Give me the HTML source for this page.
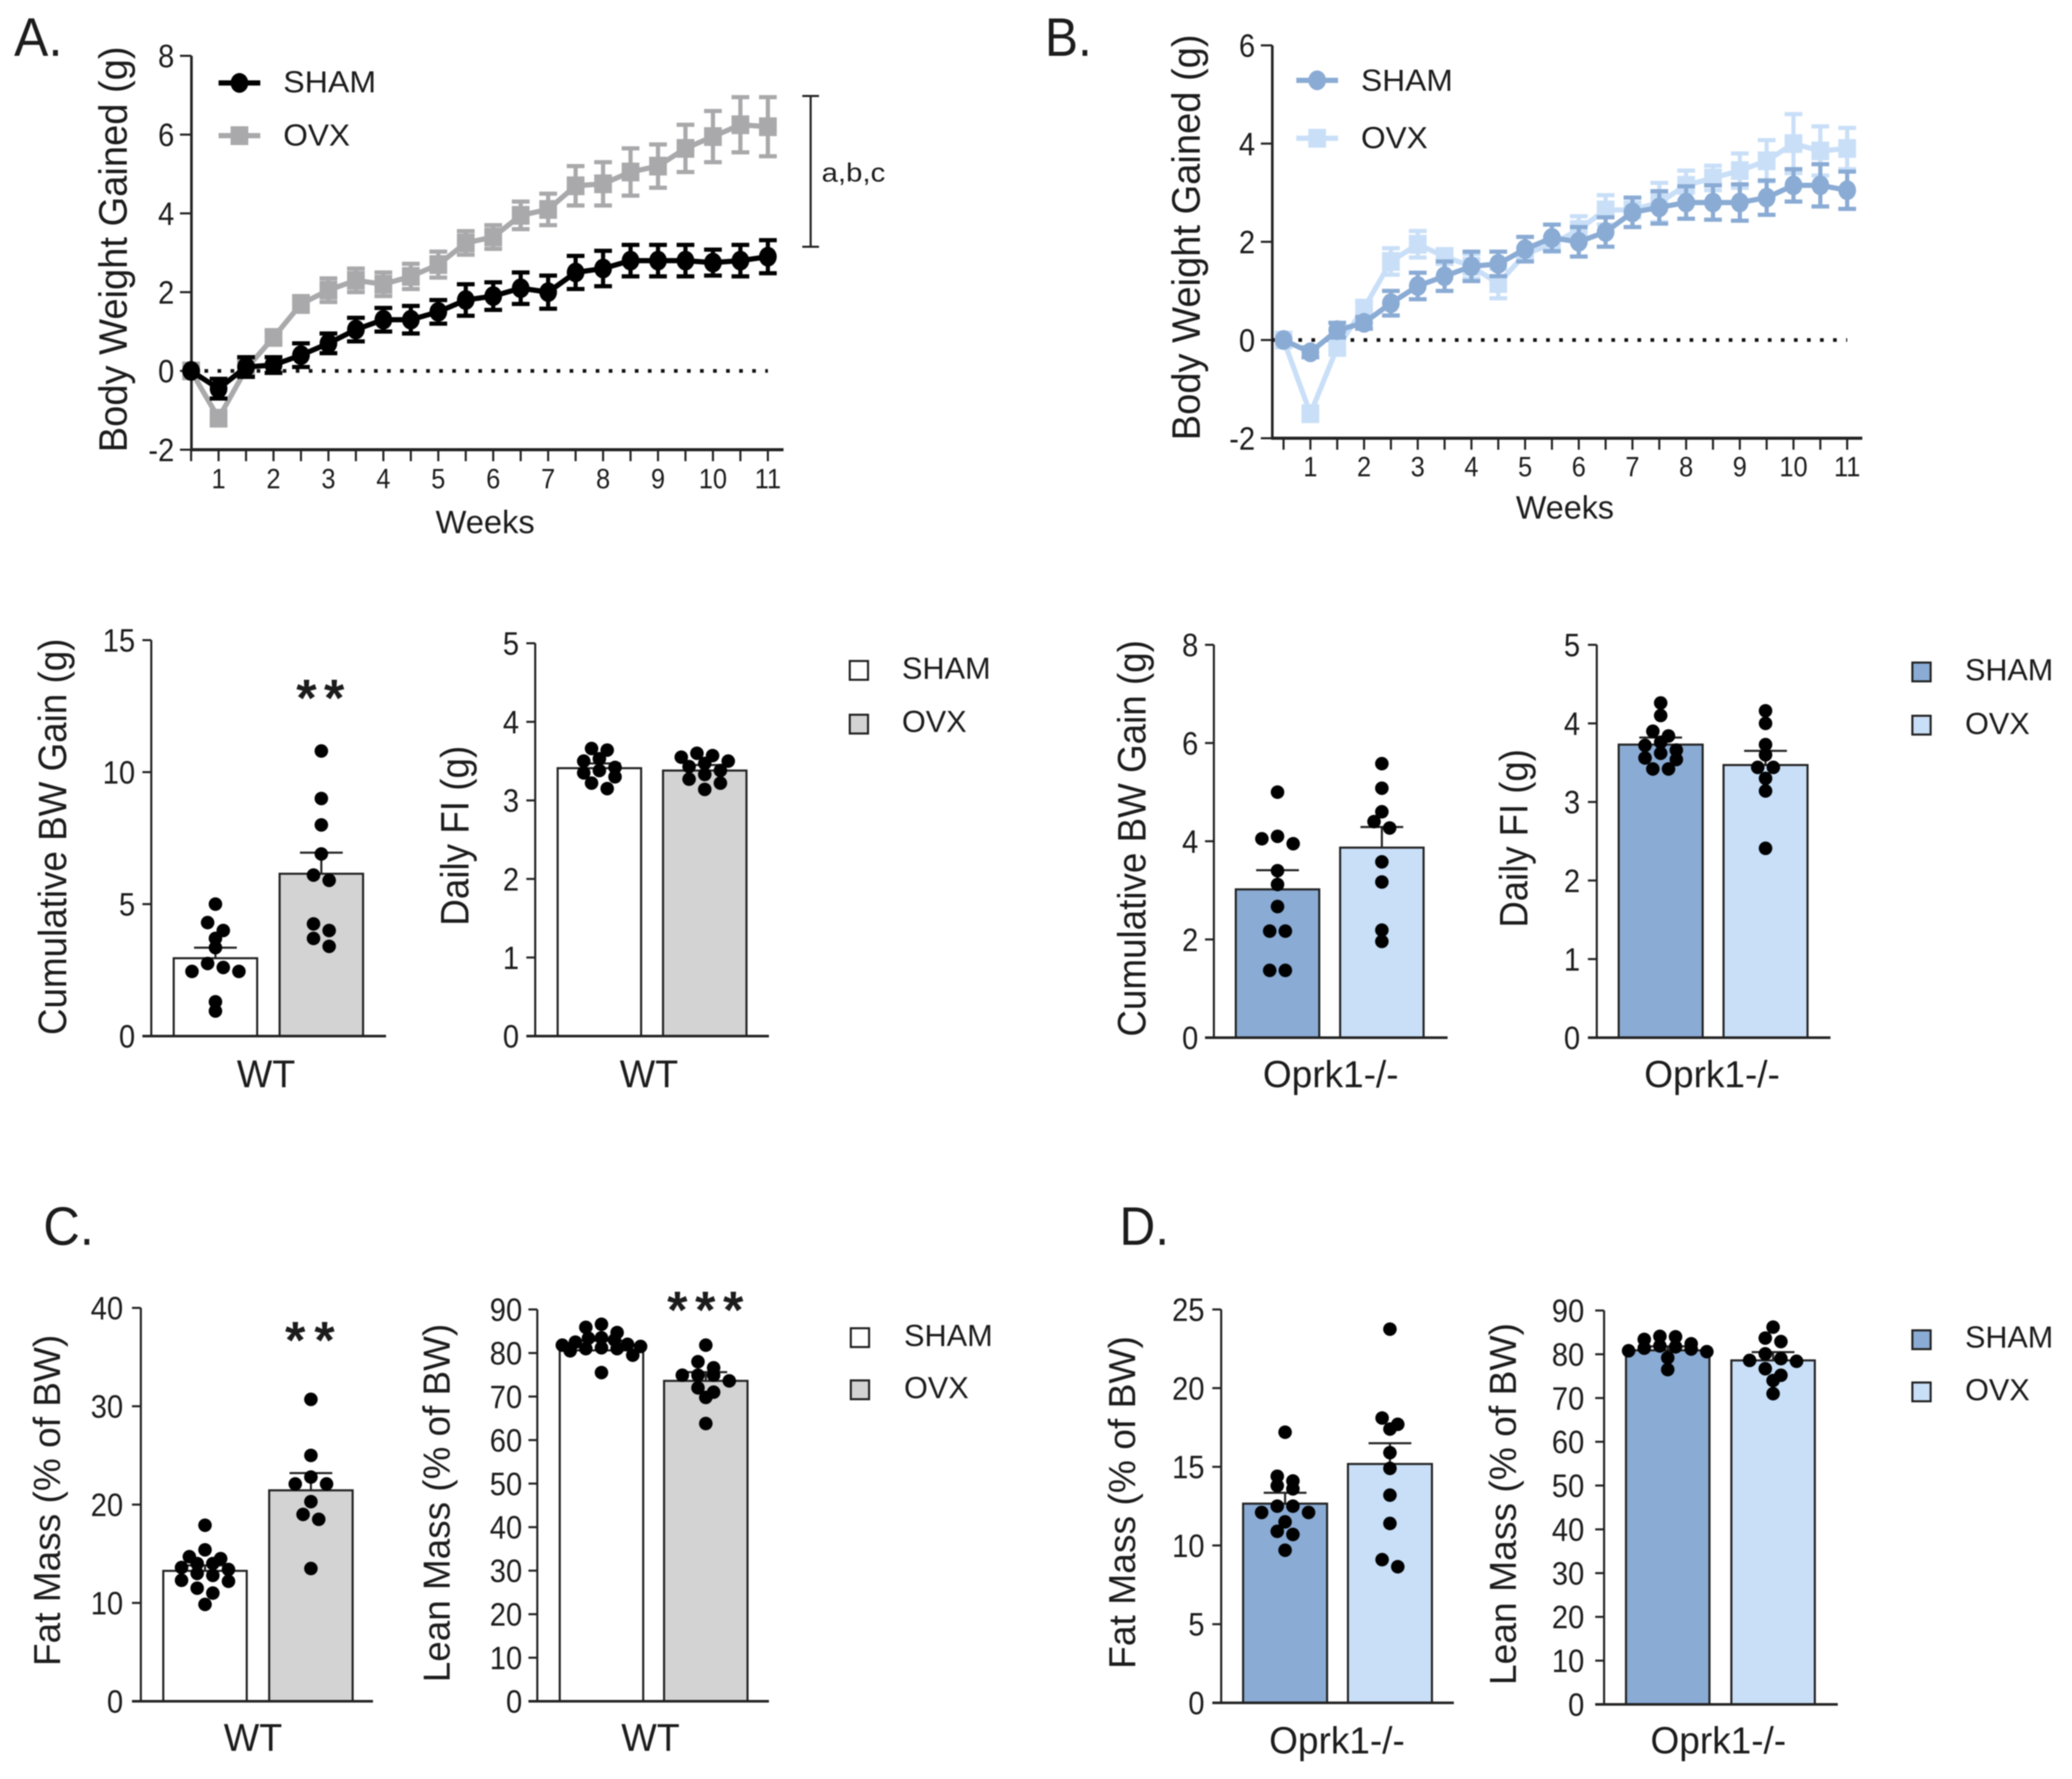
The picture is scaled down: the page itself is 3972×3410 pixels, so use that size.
<!DOCTYPE html>
<html lang="en">
<head>
<meta charset="utf-8">
<title>Body weight, food intake and body composition panels</title>
<style>
html,body{margin:0;padding:0;background:#fff;}
#figure{display:block;filter:blur(1px);}
text{font-family:"Liberation Sans",sans-serif;fill:#1c1c1c;}
</style>
</head>
<body>
<svg id="figure" xmlns="http://www.w3.org/2000/svg" width="3972" height="3410" viewBox="0 0 3972 3410">
<rect x="0" y="0" width="3972" height="3410" fill="#fff"/>

<text x="27" y="107" font-size="104" textLength="93" lengthAdjust="spacingAndGlyphs">A.</text>
<text x="2003" y="107" font-size="104" textLength="90" lengthAdjust="spacingAndGlyphs">B.</text>
<text x="83" y="2386" font-size="104" textLength="97" lengthAdjust="spacingAndGlyphs">C.</text>
<text x="2146" y="2386" font-size="104" textLength="95" lengthAdjust="spacingAndGlyphs">D.</text>

<text x="243" y="478" transform="rotate(-90 243 478)" text-anchor="middle" font-size="76" textLength="778" lengthAdjust="spacingAndGlyphs">Body Weight Gained (g)</text>
<text x="930" y="1022" text-anchor="middle" font-size="62" textLength="190" lengthAdjust="spacingAndGlyphs">Weeks</text>
<text x="2300" y="455" transform="rotate(-90 2300 455)" text-anchor="middle" font-size="76" textLength="778" lengthAdjust="spacingAndGlyphs">Body Weight Gained (g)</text>
<text x="3000" y="994" text-anchor="middle" font-size="62" textLength="188" lengthAdjust="spacingAndGlyphs">Weeks</text>

<text x="543" y="177" font-size="58" textLength="178" lengthAdjust="spacingAndGlyphs">SHAM</text>
<text x="543" y="279" font-size="58" textLength="128" lengthAdjust="spacingAndGlyphs">OVX</text>
<text x="2609" y="174" font-size="58" textLength="176" lengthAdjust="spacingAndGlyphs">SHAM</text>
<text x="2609" y="284" font-size="58" textLength="128" lengthAdjust="spacingAndGlyphs">OVX</text>

<path d="M1538 184H1570M1554 184V473M1538 473H1570" fill="none" stroke="#222" stroke-width="4"/>
<text x="1575" y="348" font-size="50" textLength="122" lengthAdjust="spacingAndGlyphs">a,b,c</text>

<text x="127" y="1604" transform="rotate(-90 127 1604)" text-anchor="middle" font-size="76" textLength="760" lengthAdjust="spacingAndGlyphs">Cumulative BW Gain (g)</text>
<text x="898" y="1602" transform="rotate(-90 898 1602)" text-anchor="middle" font-size="76" textLength="345" lengthAdjust="spacingAndGlyphs">Daily FI (g)</text>
<text x="2196" y="1607" transform="rotate(-90 2196 1607)" text-anchor="middle" font-size="76" textLength="760" lengthAdjust="spacingAndGlyphs">Cumulative BW Gain (g)</text>
<text x="2928" y="1607" transform="rotate(-90 2928 1607)" text-anchor="middle" font-size="76" textLength="342" lengthAdjust="spacingAndGlyphs">Daily FI (g)</text>
<text x="115" y="2876" transform="rotate(-90 115 2876)" text-anchor="middle" font-size="72" textLength="635" lengthAdjust="spacingAndGlyphs">Fat Mass (% of BW)</text>
<text x="862" y="2881" transform="rotate(-90 862 2881)" text-anchor="middle" font-size="72" textLength="687" lengthAdjust="spacingAndGlyphs">Lean Mass (% of BW)</text>
<text x="2176" y="2880" transform="rotate(-90 2176 2880)" text-anchor="middle" font-size="72" textLength="638" lengthAdjust="spacingAndGlyphs">Fat Mass (% of BW)</text>
<text x="2906" y="2883" transform="rotate(-90 2906 2883)" text-anchor="middle" font-size="72" textLength="694" lengthAdjust="spacingAndGlyphs">Lean Mass (% of BW)</text>

<text x="510" y="2084" text-anchor="middle" font-size="74" textLength="112" lengthAdjust="spacingAndGlyphs">WT</text>
<text x="1244" y="2084" text-anchor="middle" font-size="74" textLength="112" lengthAdjust="spacingAndGlyphs">WT</text>
<text x="2551" y="2084" text-anchor="middle" font-size="72" textLength="260" lengthAdjust="spacingAndGlyphs">Oprk1-/-</text>
<text x="3282" y="2084" text-anchor="middle" font-size="72" textLength="260" lengthAdjust="spacingAndGlyphs">Oprk1-/-</text>
<text x="485" y="3356" text-anchor="middle" font-size="74" textLength="112" lengthAdjust="spacingAndGlyphs">WT</text>
<text x="1247" y="3356" text-anchor="middle" font-size="74" textLength="112" lengthAdjust="spacingAndGlyphs">WT</text>
<text x="2563" y="3361" text-anchor="middle" font-size="72" textLength="260" lengthAdjust="spacingAndGlyphs">Oprk1-/-</text>
<text x="3294" y="3361" text-anchor="middle" font-size="72" textLength="260" lengthAdjust="spacingAndGlyphs">Oprk1-/-</text>

<text x="614" y="1372" text-anchor="middle" font-size="100" font-weight="bold" textLength="92" lengthAdjust="spacing">**</text>
<text x="594" y="2603" text-anchor="middle" font-size="100" font-weight="bold" textLength="95" lengthAdjust="spacing">**</text>
<text x="1352" y="2545" text-anchor="middle" font-size="100" font-weight="bold" textLength="146" lengthAdjust="spacing">***</text>

<g>
<rect x="1629" y="1267" width="35" height="36" fill="#fff" stroke="#222" stroke-width="4"/>
<text x="1729" y="1301" font-size="58" textLength="170" lengthAdjust="spacingAndGlyphs">SHAM</text>
<rect x="1629" y="1370" width="35" height="36" fill="#d3d3d3" stroke="#222" stroke-width="4"/>
<text x="1729" y="1403" font-size="58" textLength="124" lengthAdjust="spacingAndGlyphs">OVX</text>
</g>
<g>
<rect x="3666" y="1270" width="35" height="36" fill="#8aabd4" stroke="#222" stroke-width="4"/>
<text x="3767" y="1304" font-size="58" textLength="169" lengthAdjust="spacingAndGlyphs">SHAM</text>
<rect x="3666" y="1372" width="35" height="36" fill="#c9dff8" stroke="#222" stroke-width="4"/>
<text x="3767" y="1407" font-size="58" textLength="124" lengthAdjust="spacingAndGlyphs">OVX</text>
</g>
<g>
<rect x="1631" y="2546" width="35" height="36" fill="#fff" stroke="#222" stroke-width="4"/>
<text x="1733" y="2580" font-size="58" textLength="170" lengthAdjust="spacingAndGlyphs">SHAM</text>
<rect x="1631" y="2646" width="35" height="36" fill="#d3d3d3" stroke="#222" stroke-width="4"/>
<text x="1733" y="2680" font-size="58" textLength="124" lengthAdjust="spacingAndGlyphs">OVX</text>
</g>
<g>
<rect x="3666" y="2550" width="35" height="36" fill="#8aabd4" stroke="#222" stroke-width="4"/>
<text x="3767" y="2583" font-size="58" textLength="169" lengthAdjust="spacingAndGlyphs">SHAM</text>
<rect x="3666" y="2650" width="35" height="36" fill="#c9dff8" stroke="#222" stroke-width="4"/>
<text x="3767" y="2684" font-size="58" textLength="124" lengthAdjust="spacingAndGlyphs">OVX</text>
</g>
</svg>

<script>
// ---- Shared categories ----
const weeks = [0.5,1,1.5,2,2.5,3,3.5,4,4.5,5,5.5,6,6.5,7,7.5,8,8.5,9,9.5,10,10.5,11];
const weekTickLabels = [1,2,3,4,5,6,7,8,9,10,11];

// ---- Panel A line chart ----
const aLineYTicks = [-2,0,2,4,6,8];
const aShamMeans = [0,-0.45,0.1,0.15,0.4,0.7,1.05,1.3,1.3,1.5,1.8,1.9,2.1,2.0,2.5,2.6,2.8,2.8,2.8,2.75,2.8,2.9];
const aShamErrors = [0,0.25,0.25,0.2,0.3,0.25,0.3,0.3,0.35,0.3,0.4,0.35,0.4,0.42,0.42,0.45,0.4,0.4,0.4,0.33,0.4,0.42];
const aOvxMeans = [0,-1.2,0.05,0.85,1.7,2.05,2.3,2.2,2.4,2.7,3.25,3.4,3.95,4.1,4.7,4.75,5.05,5.2,5.65,5.95,6.25,6.2];
const aOvxErrors = [0,0.1,0.2,0.15,0.2,0.3,0.3,0.3,0.32,0.33,0.3,0.3,0.35,0.4,0.5,0.55,0.6,0.55,0.6,0.65,0.7,0.75];

// ---- Panel B line chart ----
const bLineYTicks = [-2,0,2,4,6];
const bShamMeans = [0,-0.25,0.2,0.35,0.75,1.1,1.3,1.5,1.55,1.85,2.08,2.0,2.2,2.6,2.7,2.8,2.8,2.8,2.9,3.15,3.15,3.05];
const bShamErrors = [0,0.1,0.15,0.12,0.25,0.27,0.3,0.3,0.25,0.25,0.27,0.3,0.3,0.3,0.33,0.33,0.35,0.37,0.35,0.33,0.43,0.38];
const bOvxMeans = [0,-1.5,-0.15,0.65,1.6,1.95,1.7,1.5,1.15,1.75,1.95,2.25,2.65,2.65,2.8,3.15,3.3,3.45,3.65,4.0,3.85,3.9];
const bOvxErrors = [0,0.1,0.15,0.15,0.27,0.27,0.15,0.25,0.3,0.15,0.15,0.27,0.3,0.15,0.4,0.3,0.25,0.35,0.42,0.6,0.5,0.42];

// ---- Bar chart axis ticks ----
const cumulativeWtTicks = [0,5,10,15];
const foodTicks = [0,1,2,3,4,5];
const cumulativeKoTicks = [0,2,4,6,8];
const fatWtTicks = [0,10,20,30,40];
const fatKoTicks = [0,5,10,15,20,25];
const leanTicks = [0,10,20,30,40,50,60,70,80,90];

// ---- Panel A cumulative gain ----
const aCumMeans = [2.95,6.15];
const aCumErrors = [0.4,0.8];
const aCumShamDots = [5.0,4.3,4.0,3.7,3.35,2.75,2.6,2.45,2.45,1.3,0.95];
const aCumOvxDots = [10.8,9.0,8.0,6.9,6.1,5.9,4.25,4.0,3.7,3.4];

// ---- Panel A daily food intake ----
const aFoodMeans = [3.41,3.38];
const aFoodErrors = [0.06,0.07];
const aFoodShamDots = [3.66,3.64,3.53,3.5,3.42,3.38,3.35,3.3,3.22,3.15];
const aFoodOvxDots = [3.6,3.57,3.55,3.5,3.47,3.43,3.38,3.33,3.27,3.22,3.14];

// ---- Panel B cumulative gain ----
const bCumMeans = [3.02,3.87];
const bCumErrors = [0.39,0.42];
const bCumShamDots = [5.0,4.1,4.05,3.95,3.4,3.12,2.67,2.17,2.17,1.37,1.37];
const bCumOvxDots = [5.58,5.08,4.6,4.4,4.27,3.58,3.17,2.19,1.96];

// ---- Panel B daily food intake ----
const bFoodMeans = [3.73,3.47];
const bFoodErrors = [0.09,0.18];
const bFoodShamDots = [4.26,4.1,3.9,3.84,3.76,3.72,3.66,3.62,3.56,3.54,3.42,3.42];
const bFoodOvxDots = [4.16,4.0,3.73,3.6,3.44,3.44,3.3,3.14,2.41];

// ---- Panel C fat mass ----
const cFatMeans = [13.26,21.45];
const cFatErrors = [0.55,1.75];
const cFatShamDots = [17.9,15.4,14.7,14.5,14.0,14.0,13.6,13.4,13.0,12.8,12.3,12.2,11.5,11.0,9.85];
const cFatOvxDots = [30.7,25,22.8,22.1,22.1,20.3,19.0,18.5,13.5];

// ---- Panel C lean mass ----
const cLeanMeans = [80.6,73.6];
const cLeanErrors = [2.2,2.0];
const cLeanShamDots = [86.6,85.9,84.7,83.5,83.4,83,82.5,82,81.8,81.5,81.2,81,81,80.5,79.5,75.5];
const cLeanOvxDots = [81.8,78,76.6,74.9,74.9,74.9,73.6,72,71,69.8,63.8];

// ---- Panel D fat mass ----
const dFatMeans = [12.66,15.18];
const dFatErrors = [0.69,1.32];
const dFatShamDots = [17.2,14.4,14.1,13.8,13.6,12.5,12.5,12.1,12.1,11.5,10.9,10.7,9.7];
const dFatOvxDots = [23.75,18.1,17.7,17.4,15.9,14.9,13.2,11.4,9.1,8.65];

// ---- Panel D lean mass ----
const dLeanMeans = [80.9,78.6];
const dLeanErrors = [0.9,1.9];
const dLeanShamDots = [84.1,84.0,83.4,82.4,81.9,81.7,81.4,81.2,80.8,80.6,79.2,76.5];
const dLeanOvxDots = [86.2,83.7,82.9,80.1,79,78.6,78.4,76.7,75.2,74,71];

const SVG_NS = 'http://www.w3.org/2000/svg';
const root = document.getElementById('figure');
const INK = '#222';
const GREY = '#a9a9ab';
const BLUE = '#8aabd4';
const PALE = '#c9dff8';
const LIGHT_GREY = '#d3d3d3';

function el(tag, attrs, parent) {
  const node = document.createElementNS(SVG_NS, tag);
  for (const key in attrs) node.setAttribute(key, attrs[key]);
  (parent || root).appendChild(node);
  return node;
}
function linear(d0, d1, r0, r1) {
  return function (v) { return r0 + (v - d0) / (d1 - d0) * (r1 - r0); };
}
// Original labels are taller and narrower than Liberation's default proportions.
function narrow(label) {
  label.setAttribute('textLength', label.getComputedTextLength() * 0.9);
  label.setAttribute('lengthAdjust', 'spacingAndGlyphs');
}

function drawLineChart(prefix, layout, yTicks, series) {
  const x = linear(1, 11, layout.week1, layout.week11);
  const y = linear(yTicks[0], yTicks[yTicks.length - 1], layout.yBottom, layout.yTop);
  const group = el('g', {});
  
  

  const yAxis = el('line', {x1: layout.axisX, x2: layout.axisX, y1: layout.yTop, y2: layout.yBottom, stroke: INK, 'stroke-width': 5}, group);
  
  
  const xAxis = el('line', {x1: layout.axisX - 2, x2: layout.xEnd, y1: layout.yBottom, y2: layout.yBottom, stroke: INK, 'stroke-width': 6}, group);
  
  

  yTicks.forEach(function (t) {
    const tick = el('line', {x1: layout.axisX - 22, x2: layout.axisX, y1: y(t), y2: y(t), stroke: INK, 'stroke-width': 4}, group);
    
    
    const label = el('text', {x: layout.axisX - 33, y: y(t) + 22, 'text-anchor': 'end', 'font-size': 62}, group);
    
    
    label.textContent = t;
    narrow(label);
  });

  weeks.forEach(function (w) {
    const tick = el('line', {x1: x(w), x2: x(w), y1: layout.yBottom, y2: layout.yBottom + 22, stroke: INK, 'stroke-width': 4}, group);
    
    
  });
  weekTickLabels.forEach(function (w) {
    const label = el('text', {x: x(w), y: layout.tickBaseline, 'text-anchor': 'middle', 'font-size': 54}, group);
    
    
    label.textContent = w;
    narrow(label);
  });

  const zero = el('line', {x1: layout.axisX, x2: x(11), y1: y(0), y2: y(0), stroke: '#111', 'stroke-width': 7, 'stroke-dasharray': '7 18'}, group);
  
  

  series.forEach(function (s) {
    const path = weeks.map(function (w, i) { return (i ? 'L' : 'M') + x(w) + ' ' + y(s.means[i]); }).join('');
    const line = el('path', {d: path, fill: 'none', stroke: s.color, 'stroke-width': 10, 'stroke-linejoin': 'round'}, group);
    
    
    weeks.forEach(function (w, i) {
      const cx = x(w);
      const hi = y(s.means[i] + s.errors[i]);
      const lo = y(s.means[i] - s.errors[i]);
      const err = el('path', {d: 'M' + cx + ' ' + lo + 'V' + hi + 'M' + (cx - 17) + ' ' + hi + 'H' + (cx + 17) + 'M' + (cx - 17) + ' ' + lo + 'H' + (cx + 17), fill: 'none', stroke: s.color, 'stroke-width': 8}, group);
      
      
      let mark;
      if (s.shape === 'circle') {
        mark = el('ellipse', {cx: cx, cy: y(s.means[i]), rx: 17, ry: 19, fill: s.color}, group);
      } else {
        mark = el('rect', {x: cx - 17, y: y(s.means[i]) - 18, width: 34, height: 36, fill: s.color}, group);
      }
      
      
    });
  });

  // legend marks
  const legendY = [layout.legendShamY, layout.legendOvxY];
  [series[1], series[0]].forEach(function (s, i) {
    const sample = el('line', {x1: layout.legendX, x2: layout.legendX + 80, y1: legendY[i], y2: legendY[i], stroke: s.color, 'stroke-width': 10}, group);
    
    
    let mark;
    if (s.shape === 'circle') {
      mark = el('ellipse', {cx: layout.legendX + 40, cy: legendY[i], rx: 17, ry: 19, fill: s.color}, group);
    } else {
      mark = el('rect', {x: layout.legendX + 23, y: legendY[i] - 18, width: 34, height: 36, fill: s.color}, group);
    }
    
    
  });
}

// Rows of nearby values are spread symmetrically about the bar centre.
function swarm(values, y, center) {
  const placed = [];
  const rowSpan = 17;
  const sorted = values.slice().sort(function (a, b) { return b - a; });
  let i = 0;
  while (i < sorted.length) {
    const row = [sorted[i]];
    let j = i + 1;
    while (j < sorted.length && y(sorted[j]) - y(row[0]) <= rowSpan) { row.push(sorted[j]); j++; }
    const step = Math.min(30, row.length > 1 ? 150 / (row.length - 1) : 30);
    const slots = row.map(function (_, k) { return (k - (row.length - 1) / 2) * step; });
    slots.sort(function (a, b) { return Math.abs(a) - Math.abs(b) || a - b; });
    row.forEach(function (v, k) { placed.push({x: center + slots[k], y: y(v)}); });
    i = j;
  }
  return placed;
}

function drawBarChart(prefix, layout, ticks, means, errors, shamDots, ovxDots, fills) {
  const y = linear(ticks[0], ticks[ticks.length - 1], layout.y0, layout.yTop);
  const group = el('g', {});
  
  

  const names = ['sham', 'ovx'];
  const dotSets = [shamDots, ovxDots];
  names.forEach(function (name, i) {
    const left = layout.barX[i];
    const bar = el('rect', {x: left, y: y(means[i]), width: layout.barW, height: layout.y0 - y(means[i]), fill: fills[i], stroke: INK, 'stroke-width': 4}, group);
    
    
    const cx = left + layout.barW / 2;
    const top = y(means[i] + errors[i]);
    const err = el('path', {d: 'M' + cx + ' ' + y(means[i]) + 'V' + top + 'M' + (cx - 41) + ' ' + top + 'H' + (cx + 41), fill: 'none', stroke: INK, 'stroke-width': 4}, group);
    
    
    swarm(dotSets[i], y, cx).forEach(function (p) {
      const dot = el('circle', {cx: p.x, cy: p.y, r: 13, fill: '#000'}, group);
      
      
    });
  });

  const yAxis = el('line', {x1: layout.axisX, x2: layout.axisX, y1: layout.yTop, y2: layout.y0, stroke: INK, 'stroke-width': 4}, group);
  
  
  const xAxis = el('line', {x1: layout.axisX - 17, x2: layout.xEnd, y1: layout.y0, y2: layout.y0, stroke: INK, 'stroke-width': 5}, group);
  
  

  ticks.forEach(function (t) {
    const tick = el('line', {x1: layout.axisX - 17, x2: layout.axisX, y1: y(t), y2: y(t), stroke: INK, 'stroke-width': 4}, group);
    
    
    const label = el('text', {x: layout.labelRight, y: y(t) + 22, 'text-anchor': 'end', 'font-size': 62}, group);
    
    
    label.textContent = t;
    narrow(label);
  });
}

const seriesA = [
  {name: 'ovx', shape: 'square', color: GREY, means: aOvxMeans, errors: aOvxErrors},
  {name: 'sham', shape: 'circle', color: '#000', means: aShamMeans, errors: aShamErrors}
];
const seriesB = [
  {name: 'ovx', shape: 'square', color: PALE, means: bOvxMeans, errors: bOvxErrors},
  {name: 'sham', shape: 'circle', color: BLUE, means: bShamMeans, errors: bShamErrors}
];

drawLineChart('a', {axisX: 367, xEnd: 1502, yTop: 107, yBottom: 862, week1: 419, week11: 1472, tickBaseline: 936, legendX: 419, legendShamY: 159, legendOvxY: 260}, aLineYTicks, seriesA);
drawLineChart('b', {axisX: 2439, xEnd: 3570, yTop: 87, yBottom: 840, week1: 2512, week11: 3541, tickBaseline: 913, legendX: 2485, legendShamY: 154, legendOvxY: 265}, bLineYTicks, seriesB);

const wtFills = ['#fff', LIGHT_GREY];
const koFills = [BLUE, PALE];
drawBarChart('a-cumulative', {axisX: 290, xEnd: 740, yTop: 1227, y0: 1986, barX: [333, 536], barW: 160, labelRight: 259}, cumulativeWtTicks, aCumMeans, aCumErrors, aCumShamDots, aCumOvxDots, wtFills);
drawBarChart('a-food', {axisX: 1026, xEnd: 1474, yTop: 1233, y0: 1986, barX: [1069, 1271], barW: 160, labelRight: 995}, foodTicks, aFoodMeans, aFoodErrors, aFoodShamDots, aFoodOvxDots, wtFills);
drawBarChart('b-cumulative', {axisX: 2327, xEnd: 2775, yTop: 1236, y0: 1989, barX: [2369, 2569], barW: 160, labelRight: 2297}, cumulativeKoTicks, bCumMeans, bCumErrors, bCumShamDots, bCumOvxDots, koFills);
drawBarChart('b-food', {axisX: 3061, xEnd: 3509, yTop: 1236, y0: 1989, barX: [3103, 3304], barW: 161, labelRight: 3029}, foodTicks, bFoodMeans, bFoodErrors, bFoodShamDots, bFoodOvxDots, koFills);
drawBarChart('c-fat', {axisX: 270, xEnd: 715, yTop: 2507, y0: 3261, barX: [313, 516], barW: 160, labelRight: 236}, fatWtTicks, cFatMeans, cFatErrors, cFatShamDots, cFatOvxDots, wtFills);
drawBarChart('c-lean', {axisX: 1030, xEnd: 1474, yTop: 2510, y0: 3261, barX: [1073, 1273], barW: 160, labelRight: 1001}, leanTicks, cLeanMeans, cLeanErrors, cLeanShamDots, cLeanOvxDots, wtFills);
drawBarChart('d-fat', {axisX: 2341, xEnd: 2787, yTop: 2510, y0: 3264, barX: [2383, 2584], barW: 161, labelRight: 2309}, fatKoTicks, dFatMeans, dFatErrors, dFatShamDots, dFatOvxDots, koFills);
drawBarChart('d-lean', {axisX: 3075, xEnd: 3523, yTop: 2512, y0: 3267, barX: [3117, 3319], barW: 160, labelRight: 3037}, leanTicks, dLeanMeans, dLeanErrors, dLeanShamDots, dLeanOvxDots, koFills);
</script>
</body>
</html>
